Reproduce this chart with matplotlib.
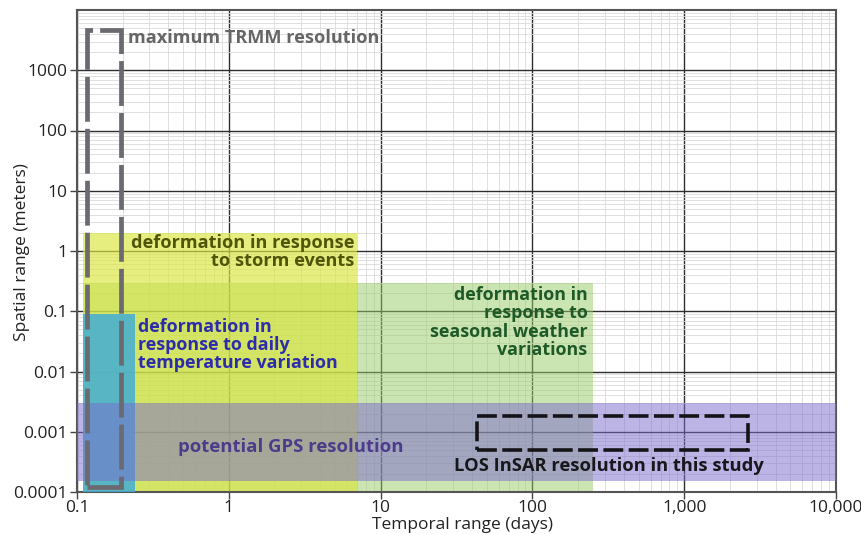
import matplotlib
matplotlib.use("Agg")
import matplotlib.pyplot as plt
from matplotlib.patches import Rectangle
from matplotlib.ticker import FixedLocator, LogLocator, NullFormatter

# ---------------- data ----------------
x_ticks = [0.1, 1, 10, 100, 1000, 10000]
x_tick_labels = ["0.1", "1", "10", "100", "1,000", "10,000"]
y_ticks = [0.0001, 0.001, 0.01, 0.1, 1, 10, 100, 1000]
y_tick_labels = ["0.0001", "0.001", "0.01", "0.1", "1", "10", "100", "1000"]

# regions: (temporal min, temporal max, spatial min, spatial max)
seasonal_box = (0.11, 250, 0.0001, 0.3)
storm_box = (0.11, 7, 0.0001, 2)
daily_box = (0.11, 0.24, 0.0001, 0.09)
gps_box = (0.1, 10000, 0.00015, 0.003)
trmm_box = (0.117, 0.195, 0.000123, 4600)
insar_box = (43, 2650, 0.00049, 0.0018)

trmm_label = "maximum TRMM resolution"
storm_label = "deformation in response\nto storm events"
daily_label = "deformation in\nresponse to daily\ntemperature variation"
seasonal_label = "deformation in\nresponse to\nseasonal weather\nvariations"
gps_label = "potential GPS resolution"
insar_label = "LOS InSAR resolution in this study"

# ---------------- figure ----------------
plt.rcParams['font.family'] = ['Open Sans', 'DejaVu Sans']
fig = plt.figure(figsize=(8.61, 5.34), dpi=100)
ax = fig.add_axes([77/861, 1-492/534, (836-77)/861, (492-10)/534])
ax.set_xscale('log')
ax.set_yscale('log')
ax.set_xlim(0.1, 10000)
ax.set_ylim(0.0001, 10000)

ax.xaxis.set_major_locator(FixedLocator(x_ticks))
ax.set_xticklabels(x_tick_labels)
ax.yaxis.set_major_locator(FixedLocator(y_ticks))
ax.set_yticklabels(y_tick_labels)
ax.xaxis.set_minor_locator(LogLocator(base=10, subs=range(2, 10), numticks=20))
ax.yaxis.set_minor_locator(LogLocator(base=10, subs=range(2, 10), numticks=20))
ax.xaxis.set_minor_formatter(NullFormatter())
ax.yaxis.set_minor_formatter(NullFormatter())

ax.grid(which='minor', color='#dadada', lw=0.6, zorder=0)
ax.grid(which='major', color='#2e2e2e', lw=1.0, zorder=0)
ax.set_axisbelow(True)
ax.tick_params(which='major', length=5, width=1, color='#444', labelsize=12.5,
               labelcolor='#222')
ax.tick_params(axis='x', which='major', pad=1)
ax.tick_params(axis='y', which='major', pad=2)
ax.tick_params(which='minor', length=0)
for s in ax.spines.values():
    s.set_color('#555')
    s.set_linewidth(1.5)


def rect(box, **kw):
    x0, x1, y0, y1 = box
    ax.add_patch(Rectangle((x0, y0), x1 - x0, y1 - y0, **kw))


rect(seasonal_box, facecolor=(0.60, 0.80, 0.40), alpha=0.5, lw=0, zorder=1)
rect(storm_box, facecolor=(0.85, 0.90, 0.26), alpha=0.68, lw=0, zorder=2)
rect(daily_box, facecolor=(0.26, 0.68, 0.84), alpha=0.85, lw=0, zorder=3)
rect(gps_box, facecolor=(0.48, 0.42, 0.80), alpha=0.5, lw=0, zorder=4)
rect(trmm_box, fill=False, edgecolor='#6a6a70', lw=3.4,
     linestyle=(0, (9.5, 1.5)), joinstyle='miter', capstyle='butt', zorder=6)
rect(insar_box, fill=False, edgecolor='#141418', lw=2.6,
     linestyle=(0, (5.5, 1.5)), joinstyle='miter', capstyle='butt', zorder=6)

bold = dict(fontweight='bold', zorder=7)
ax.text(0.216, 3390, trmm_label, color='#666666', fontsize=13.1,
        ha='left', va='center', **bold)
ax.text(6.76, 0.96, storm_label, color='#50550a', fontsize=13.1,
        ha='right', va='center', multialignment='right', linespacing=1.0, **bold)
ax.text(0.252, 0.0275, daily_label, color='#2d2daa', fontsize=12.9,
        ha='left', va='center', multialignment='left', linespacing=1.02, **bold)
ax.text(231, 0.065, seasonal_label, color='#1e5a28', fontsize=12.9,
        ha='right', va='center', multialignment='right', linespacing=1.02, **bold)
ax.text(2.57, 0.000566, gps_label, color='#4d3b8c', fontsize=13.3,
        ha='center', va='center', **bold)
ax.text(321, 0.000271, insar_label, color='#18181c', fontsize=13.2,
        ha='center', va='center', **bold)

ax.set_xlabel("Temporal range (days)", fontsize=12.5, color='#222')
ax.set_ylabel("Spatial range (meters)", fontsize=12.5, color='#222')
ax.xaxis.set_label_coords((462-77)/759, (492-525)/482)
ax.xaxis.label.set_va('center')
ax.yaxis.set_label_coords((22-77)/759, (492-252)/482)
ax.yaxis.label.set_va('center')

fig.savefig("out.png", dpi=100)
